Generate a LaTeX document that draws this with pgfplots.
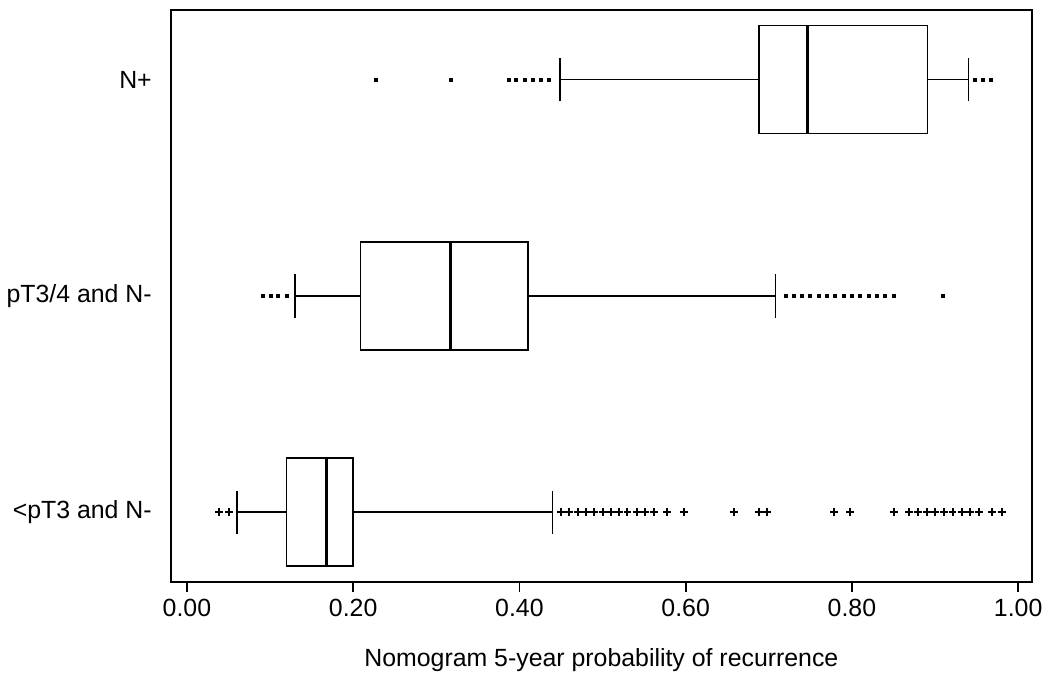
\documentclass[border=0pt]{standalone}
\usepackage{fontspec}
\setmainfont{Liberation Sans}
\usepackage{pgfplots}
\pgfplotsset{compat=1.18}
\usepgfplotslibrary{statistics}
\begin{document}
\begin{tikzpicture}[font=\fontsize{12.5}{15}\selectfont]
\begin{axis}[
  scale only axis, width=433pt, height=287.5pt,
  xmin=-0.0195, xmax=1.0167, ymin=0.678, ymax=3.322,
  xtick={0,0.2,0.4,0.6,0.8,1},
  /pgf/number format/assume math mode=true,
  xticklabel style={/pgf/number format/.cd, fixed, fixed zerofill, precision=2},
  ytick={1,2,3}, yticklabels={<pT3 and N-, pT3/4 and N-, N+},
  ytick style={draw=none},
  yticklabel style={xshift=-1pt},
  tick align=outside, tick pos=left, major tick length=5pt,
  xtick style={line width=0.9pt, black},
  axis line style={line width=1pt},
  xlabel={Nomogram 5-year probability of recurrence},
  xlabel style={yshift=-9pt},
  boxplot/draw direction=x,
  boxplot/box extend=0.5, boxplot/whisker extend=0.2,
  boxplot/every median/.style={line width=1.6pt},
]
% N+
\addplot[black, line width=0.8pt, boxplot prepared={draw position=3,
  lower whisker=0.449, lower quartile=0.688, median=0.747,
  upper quartile=0.891, upper whisker=0.940}] coordinates {};
\addplot[only marks, mark=square*, mark size=0.75pt] coordinates {
  (0.227,3) (0.317,3) (0.387,3) (0.396,3) (0.406,3) (0.416,3) (0.426,3) (0.436,3)
  (0.948,3) (0.957,3) (0.967,3)};
% pT3/4 and N-
\addplot[black, line width=0.8pt, boxplot prepared={draw position=2,
  lower whisker=0.130, lower quartile=0.209, median=0.317,
  upper quartile=0.410, upper whisker=0.708}] coordinates {};
\addplot[only marks, mark=square*, mark size=0.75pt] coordinates {
  (0.091,2) (0.101,2) (0.110,2) (0.120,2)
  (0.720,2) (0.730,2) (0.740,2) (0.750,2) (0.760,2) (0.770,2) (0.780,2)
  (0.790,2) (0.800,2) (0.810,2) (0.820,2) (0.830,2) (0.840,2) (0.851,2)
  (0.909,2)};
% <pT3 and N-
\addplot[black, line width=0.8pt, boxplot prepared={draw position=1,
  lower whisker=0.060, lower quartile=0.120, median=0.168,
  upper quartile=0.200, upper whisker=0.440}] coordinates {};
\addplot[only marks, mark=+, mark size=2pt, mark options={line width=1pt}] coordinates {
  (0.039,1) (0.051,1)
  (0.450,1) (0.460,1) (0.470,1) (0.480,1) (0.490,1) (0.500,1) (0.510,1)
  (0.520,1) (0.530,1) (0.541,1) (0.551,1) (0.562,1)
  (0.578,1) (0.598,1) (0.658,1) (0.688,1) (0.698,1) (0.779,1) (0.798,1)
  (0.851,1) (0.869,1) (0.879,1) (0.890,1) (0.900,1) (0.911,1) (0.921,1)
  (0.932,1) (0.942,1) (0.953,1) (0.969,1) (0.980,1)};
\end{axis}
\path ([xshift=2pt,yshift=5pt]current axis.north east);
\path ([yshift=-51.5pt]current axis.south west);
\end{tikzpicture}
\end{document}
